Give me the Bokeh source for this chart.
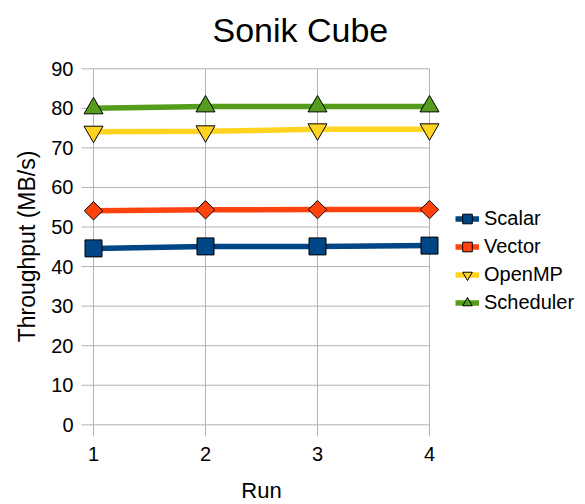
from bokeh.plotting import figure
from bokeh.models import FixedTicker, Legend, LegendItem, Range1d
from bokeh.embed import file_html
from bokeh.resources import INLINE
import math

runs = [1, 2, 3, 4]
scalar = [44.6, 45.1, 45.1, 45.3]
vector = [54.1, 54.35, 54.4, 54.4]
openmp = [74.1, 74.2, 74.7, 74.7]
scheduler = [80.0, 80.5, 80.5, 80.5]
series_names = ["Scalar", "Vector", "OpenMP", "Scheduler"]
y_ticks = list(range(0, 100, 10))

FONT = "Liberation Sans"
GRID = "#b3b3b3"

x_lo, x_hi = runs[0], runs[-1]
y_lo, y_hi = y_ticks[0], y_ticks[-1]

# frame padding so that markers at the ends are not cut off
X_PX = 112.0          # pixels per run unit
Y_PX = 356.0 / 90.0   # pixels per MB/s
TICK = 12.0           # outward tick length in pixels

p = figure(frame_width=364, frame_height=380, output_backend="svg", toolbar_location=None,
           x_range=Range1d(x_lo - 14 / X_PX, x_hi + 14 / X_PX),
           y_range=Range1d(y_lo - 11.7 / Y_PX, y_hi + 12.3 / Y_PX),
           min_border_left=79, min_border_right=142, min_border_top=56, min_border_bottom=68)
p.outline_line_color = None
p.xgrid.visible = False
p.ygrid.visible = False

p.title.text = "Sonik Cube"
p.title.text_font = FONT
p.title.text_font_size = "34px"
p.title.text_font_style = "normal"
p.title.text_color = "#000000"
p.title.align = "left"
p.title.offset = 133
p.title.standoff = 16

for ax in (p.xaxis[0], p.yaxis[0]):
    ax.axis_line_color = None
    ax.major_tick_line_color = None
    ax.major_tick_out = 0
    ax.major_tick_in = 0
    ax.minor_tick_out = 0
    ax.minor_tick_in = 0
    ax.minor_tick_line_color = None
    ax.major_label_text_font = FONT
    ax.major_label_text_font_size = "20px"
    ax.major_label_text_color = "#000000"
    ax.axis_label_text_font = FONT
    ax.axis_label_text_font_size = "22px"
    ax.axis_label_text_font_style = "normal"
    ax.axis_label_text_color = "#000000"

p.xaxis.ticker = FixedTicker(ticks=runs)
p.yaxis.ticker = FixedTicker(ticks=y_ticks)
p.xaxis.axis_label = "Run"
p.yaxis.axis_label = "Throughput (MB/s)"
p.yaxis.axis_label_text_font_size = "23px"
p.xaxis.major_label_standoff = 10
p.yaxis.major_label_standoff = 6
p.xaxis.axis_label_standoff = 14
p.yaxis.axis_label_standoff = 8

# grid lines, axis lines and outward ticks derived from the tick arrays
p.segment(x0=runs, y0=[y_lo - TICK / Y_PX] * len(runs), x1=runs, y1=[y_hi] * len(runs),
          line_color=GRID, line_width=1)
p.segment(x0=[x_lo - TICK / X_PX] * len(y_ticks), y0=y_ticks, x1=[x_hi] * len(y_ticks), y1=y_ticks,
          line_color=GRID, line_width=1)

colors = ["#004586", "#ff420e", "#ffd320", "#579d1c"]
data = [scalar, vector, openmp, scheduler]
items = []
for name, ys, col in zip(series_names, data, colors):
    ln = p.line(runs, ys, line_color=col, line_width=5.5)
    if name == "Scalar":
        mk = p.scatter(runs, ys, marker="square", size=17, fill_color=col, line_color="#000000", line_width=1)
    elif name == "Vector":
        mk = p.scatter(runs, ys, marker="square", size=13, angle=math.pi / 4, fill_color=col,
                       line_color="#000000", line_width=1)
    elif name == "OpenMP":
        mk = p.scatter(runs, ys, marker="inverted_triangle", size=19, fill_color=col, line_color="#000000", line_width=1)
    else:
        mk = p.scatter(runs, ys, marker="triangle", size=19, fill_color=col, line_color="#000000", line_width=1)
    items.append(LegendItem(label=name, renderers=[ln, mk]))

legend = Legend(items=items, location=(12, 120), border_line_alpha=0, background_fill_alpha=0,
                label_text_font=FONT, label_text_font_size="20px", label_text_color="#000000",
                glyph_width=24, glyph_height=27, label_height=27, label_standoff=5, spacing=1,
                padding=0, margin=0)
p.add_layout(legend, "right")

open("out.html", "w").write(file_html(p, INLINE))
